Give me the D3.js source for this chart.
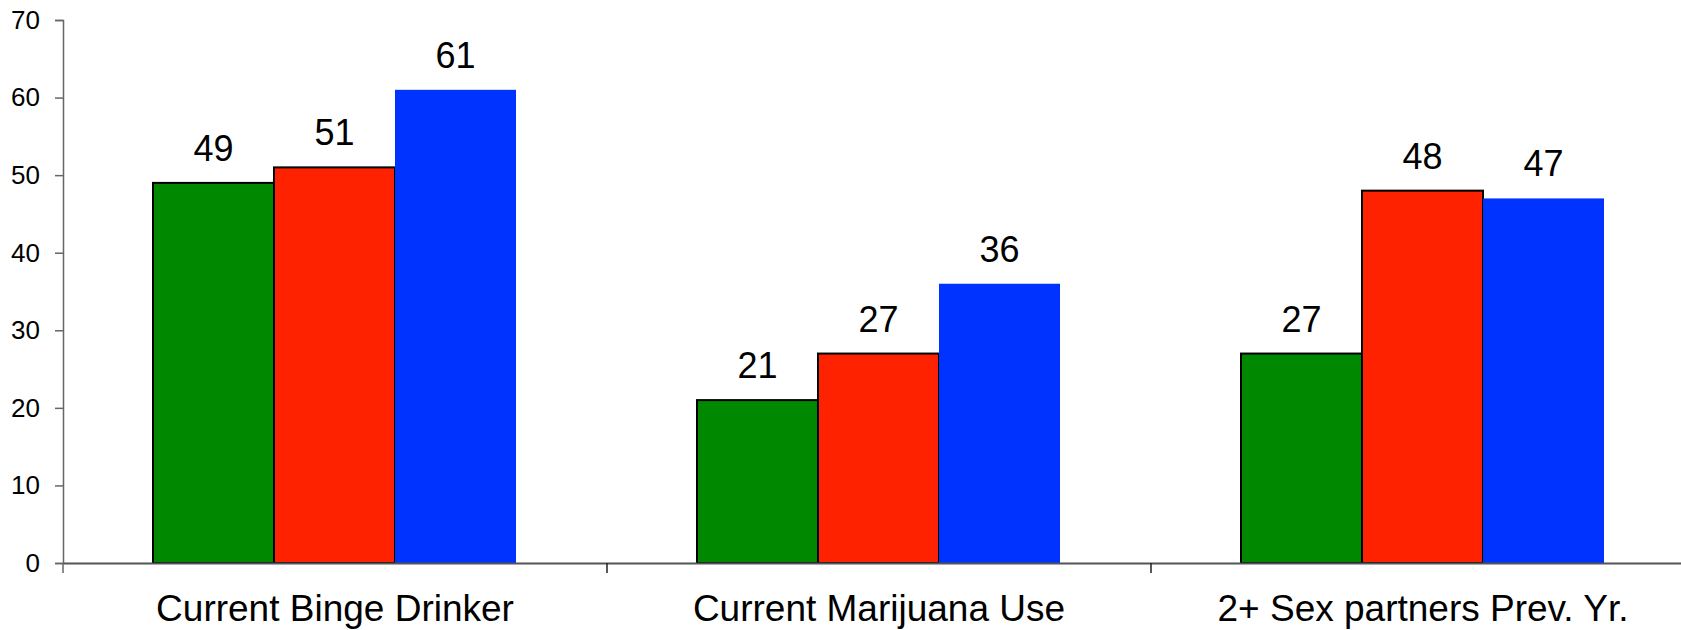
<!DOCTYPE html>
<html>
<head>
<meta charset="utf-8">
<script src="https://cdn.jsdelivr.net/npm/d3@7"></script>
<style>
  body { margin: 0; background: #fff; }
  svg { display: block; font-family: "Liberation Sans", Arial, sans-serif; }
</style>
</head>
<body>
<div id="chart"></div>
<script>
'use strict'

// Data
const categories = ['Current Binge Drinker', 'Current Marijuana Use', '2+ Sex partners Prev. Yr.']
const seriesNames = ['green', 'red', 'blue']
const seriesColors = ['#008800', '#ff2200', '#0033ff']
const greenValues = [49, 21, 27]
const redValues = [51, 27, 48]
const blueValues = [61, 36, 47]
const yTicks = [0, 10, 20, 30, 40, 50, 60, 70]

const width = 1681,
  height = 630

const marginLeft = 63, plotTop = 20, plotBottom = 563
const band = 544

let svg = d3.select('#chart')
  .append('svg')
  .attr('width', width)
  .attr('height', height)

const yScale = d3.scaleLinear()
  .domain([0, 70])
  .range([plotBottom, plotTop])

const xScale = d3.scaleBand()
  .domain(categories)
  .range([marginLeft, marginLeft + band * categories.length])

// inner band: bars take 363 px out of 544
const inner = d3.scaleBand()
  .domain(seriesNames)
  .range([90, 90 + 363])

// y axis
const axisLeft = d3.axisLeft(yScale).tickValues(yTicks).tickSize(8).tickPadding(15)
let gy = svg.append('g')
  .attr('transform', `translate(${marginLeft}, 0)`)
  .call(axisLeft)
gy.selectAll('path, line').attr('stroke', '#666').attr('stroke-width', 1.5)
gy.selectAll('text')
  .attr('font-size', 26)
  .attr('font-family', '"Liberation Sans", Arial, sans-serif')
  .attr('fill', '#000')

// bars
const rows = categories.map((c, i) => ({
  cat: c,
  vals: [greenValues[i], redValues[i], blueValues[i]]
}))

let groups = svg.selectAll('.grp')
  .data(rows)
  .enter()
  .append('g')
  .attr('transform', (d) => `translate(${xScale(d.cat)}, 0)`)

groups.selectAll('rect')
  .data((d) => d.vals.map((v, j) => ({ v: v, s: seriesNames[j], j: j })))
  .enter()
  .append('rect')
  .attr('x', (d) => inner(d.s))
  .attr('width', inner.bandwidth())
  .attr('y', (d) => yScale(d.v))
  .attr('height', (d) => yScale(0) - yScale(d.v))
  .attr('fill', (d) => seriesColors[d.j])
  .attr('stroke', (d) => d.j < 2 ? '#000' : 'none')
  .attr('stroke-width', 2)

groups.selectAll('.lbl')
  .data((d) => d.vals.map((v, j) => ({ v: v, s: seriesNames[j] })))
  .enter()
  .append('text')
  .attr('x', (d) => inner(d.s) + inner.bandwidth() / 2)
  .attr('y', (d) => yScale(d.v) - 22)
  .attr('text-anchor', 'middle')
  .attr('font-size', 36)
  .text((d) => d.v)

// x axis
const axisBottom = d3.axisBottom(xScale).tickSize(0).tickPadding(0)
let gx = svg.append('g')
  .attr('transform', `translate(0, ${plotBottom})`)
  .call(axisBottom)
gx.select('path').attr('stroke', '#555').attr('stroke-width', 2)
gx.selectAll('text')
  .attr('font-size', 37)
  .attr('font-family', '"Liberation Sans", Arial, sans-serif')
  .attr('fill', '#000')
  .attr('dy', 0)
  .attr('y', 58)

// category separator ticks
svg.selectAll('.sep')
  .data(categories.slice(1))
  .enter()
  .append('line')
  .attr('x1', (d) => xScale(d))
  .attr('x2', (d) => xScale(d))
  .attr('y1', plotBottom)
  .attr('y2', plotBottom + 10)
  .attr('stroke', '#222')
  .attr('stroke-width', 1.5)
svg.append('line')
  .attr('x1', marginLeft).attr('x2', marginLeft)
  .attr('y1', plotBottom).attr('y2', plotBottom + 10)
  .attr('stroke', '#666')
  .attr('stroke-width', 1.5)
</script>
</body>
</html>
